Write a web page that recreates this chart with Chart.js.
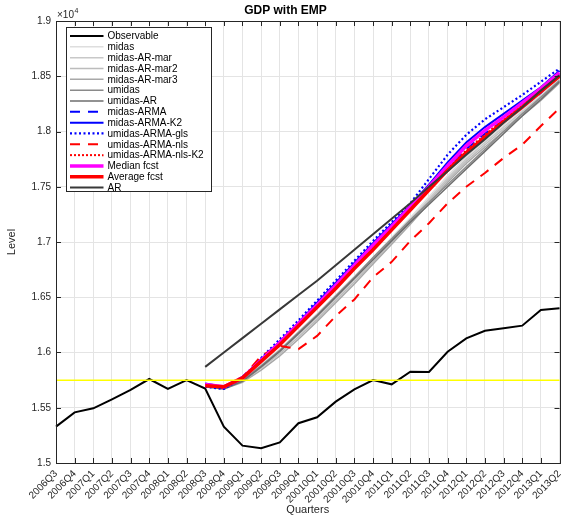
<!DOCTYPE html>
<html><head><meta charset="utf-8">
<script src="https://cdn.jsdelivr.net/npm/chart.js@4.4.1/dist/chart.umd.min.js"></script>
<style>html,body{margin:0;padding:0;background:#fff;}#wrap{width:573px;height:518px;}</style>
</head><body><div id="wrap"><canvas id="c" width="573" height="518"></canvas></div>
<script>
const quarters = ['2006Q3','2006Q4','2007Q1','2007Q2','2007Q3','2007Q4','2008Q1','2008Q2','2008Q3','2008Q4',
  '2009Q1','2009Q2','2009Q3','2009Q4','20010Q1','20010Q2','20010Q3','20010Q4','2011Q1','2011Q2','2011Q3','2011Q4',
  '2012Q1','2012Q2','2012Q3','2012Q4','2013Q1','2013Q2'];
const fcstStart = '2008Q3';
const observable = [1.5329,1.5458,1.5495,1.5576,1.5661,1.5760,1.5670,1.5751,1.5673,1.5329,1.5157,1.5133,1.5187,1.5360,
  1.5414,1.5555,1.5667,1.5751,1.5712,1.5826,1.5824,1.6007,1.6128,1.6197,1.6219,1.6243,1.6385,1.6400];
const midas =          [1.570,1.569,1.576,1.589,1.603,1.619,1.635,1.652,1.669,1.686,1.704,1.722,1.741,1.760,1.777,1.792,1.806,1.820,1.834,1.849];
const midasARmar =     [1.569,1.568,1.575,1.587,1.601,1.616,1.632,1.649,1.666,1.684,1.702,1.720,1.739,1.758,1.775,1.790,1.804,1.818,1.832,1.847];
const midasARmar2 =    [1.570,1.568,1.574,1.586,1.599,1.614,1.630,1.647,1.664,1.682,1.700,1.718,1.737,1.756,1.773,1.788,1.802,1.816,1.830,1.846];
const midasARmar3 =    [1.569,1.567,1.573,1.584,1.597,1.612,1.628,1.645,1.662,1.680,1.698,1.716,1.735,1.754,1.771,1.786,1.800,1.814,1.828,1.844];
const umidas =         [1.570,1.568,1.575,1.588,1.602,1.618,1.634,1.651,1.668,1.686,1.703,1.720,1.736,1.752,1.768,1.784,1.800,1.816,1.831,1.846];
const umidasAR =       [1.569,1.567,1.574,1.587,1.601,1.617,1.633,1.650,1.667,1.684,1.701,1.718,1.734,1.750,1.766,1.782,1.798,1.814,1.829,1.845];
const midasARMA =      [1.572,1.569,1.578,1.594,1.610,1.626,1.643,1.661,1.679,1.697,1.715,1.733,1.751,1.768,1.784,1.798,1.810,1.822,1.835,1.853];
const midasARMAK2 =    [1.571,1.568,1.577,1.594,1.610,1.627,1.645,1.663,1.681,1.699,1.716,1.733,1.752,1.772,1.790,1.804,1.816,1.828,1.840,1.855];
const umidasARMAgls =  [1.569,1.567,1.577,1.595,1.612,1.629,1.647,1.665,1.683,1.701,1.718,1.735,1.757,1.779,1.797,1.811,1.822,1.833,1.845,1.857];
const umidasARMAnls =  [1.570,1.5695,1.577,1.597,1.606,1.603,1.615,1.633,1.648,1.668,1.682,1.701,1.717,1.735,1.750,1.7625,1.776,1.788,1.805,1.821];
const umidasARMAnlsK2 =[1.570,1.568,1.577,1.593,1.609,1.626,1.643,1.660,1.678,1.695,1.713,1.731,1.749,1.767,1.783,1.797,1.811,1.824,1.838,1.852];
const medianFcst =     [1.571,1.569,1.577,1.593,1.609,1.626,1.643,1.661,1.679,1.697,1.714,1.732,1.750,1.769,1.787,1.801,1.813,1.826,1.839,1.853];
const averageFcst =    [1.570,1.569,1.577,1.592,1.607,1.624,1.641,1.658,1.676,1.693,1.711,1.729,1.747,1.765,1.781,1.795,1.809,1.822,1.836,1.850];
const arFcst =         [1.587,1.600,1.613,1.626,1.639,1.652,1.665,1.679,1.693,1.707,1.721,1.735,1.750,1.764,1.779,1.793,1.808,1.822,1.837,1.851];
const referenceLevel = 1.575;
const yMin = 1.5, yMax = 1.9, yStep = 0.05;

const s0 = quarters.indexOf(fcstStart);
const pad = v => quarters.map((q, i) => (i < s0 ? null : v[i - s0]));

const FONT = '"Liberation Sans", Arial, Helvetica, sans-serif';
const series = [
  {label:'Observable', data:observable, color:'#000000', w:2},
  {label:'midas', data:pad(midas), color:'#dedede', w:1.5},
  {label:'midas-AR-mar', data:pad(midasARmar), color:'#c8c8c8', w:1.5},
  {label:'midas-AR-mar2', data:pad(midasARmar2), color:'#bcbcbc', w:1.5},
  {label:'midas-AR-mar3', data:pad(midasARmar3), color:'#a8a8a8', w:1.5},
  {label:'umidas', data:pad(umidas), color:'#8a8a8a', w:1.5},
  {label:'umidas-AR', data:pad(umidasAR), color:'#6e6e6e', w:1.5},
  {label:'midas-ARMA', data:pad(midasARMA), color:'#0000ff', w:2, dash:[10,8]},
  {label:'midas-ARMA-K2', data:pad(midasARMAK2), color:'#0000ff', w:2},
  {label:'umidas-ARMA-gls', data:pad(umidasARMAgls), color:'#0000ff', w:2.2, dash:[2,2.5]},
  {label:'umidas-ARMA-nls', data:pad(umidasARMAnls), color:'#ff0000', w:2, dash:[10,8]},
  {label:'umidas-ARMA-nls-K2', data:pad(umidasARMAnlsK2), color:'#ff0000', w:2, dash:[2,2]},
  {label:'Median fcst', data:pad(medianFcst), color:'#ff00ff', w:3.5},
  {label:'Average fcst', data:pad(averageFcst), color:'#ff0000', w:3.5},
  {label:'AR', data:pad(arFcst), color:'#383838', w:2}
];
const datasets = series.map((s, i) => ({
  label: s.label, data: s.data, borderColor: s.color, backgroundColor: s.color,
  borderWidth: s.w, borderDash: s.dash || [], pointRadius: 0, tension: 0, fill: false,
  order: 100 - i, spanGaps: false
}));
datasets.push({
  label: '_ref', data: [{x: quarters[0], y: referenceLevel}, {x: quarters[quarters.length - 1], y: referenceLevel}],
  borderColor: '#ffff00', borderWidth: 1.5, pointRadius: 0, order: 0, fill: false
});

const decor = {
  id: 'decor',
  afterDatasetsDraw(chart) {
    const {ctx, chartArea: a, scales: {x, y}} = chart;
    ctx.save();
    ctx.strokeStyle = '#262626'; ctx.lineWidth = 1;
    ctx.beginPath();
    y.ticks.forEach(t => {
      const p = Math.round(y.getPixelForValue(t.value)) + 0.5;
      ctx.moveTo(a.left, p); ctx.lineTo(a.left + 5, p);
      ctx.moveTo(a.right, p); ctx.lineTo(a.right - 5, p);
    });
    x.ticks.forEach((t, i) => {
      const p = Math.round(x.getPixelForTick(i)) + 0.5;
      ctx.moveTo(p, a.bottom); ctx.lineTo(p, a.bottom - 5);
      ctx.moveTo(p, a.top); ctx.lineTo(p, a.top + 5);
    });
    ctx.stroke();
    ctx.strokeRect(Math.round(a.left) + 0.5, Math.round(a.top) + 0.5, Math.round(a.right - a.left), Math.round(a.bottom - a.top));
    // exponent label
    ctx.fillStyle = '#262626';
    ctx.textBaseline = 'alphabetic'; ctx.textAlign = 'left';
    ctx.font = '10px ' + FONT;
    ctx.fillText('\u00d710', a.left + 1, a.top - 3);
    const w = ctx.measureText('\u00d710').width;
    ctx.font = '7px ' + FONT;
    ctx.fillText('4', a.left + 1 + w + 0.5, a.top - 8);
    // legend
    const bx = 66.5, by = 27.5, bw = 145, bh = 164;
    ctx.fillStyle = '#ffffff';
    ctx.fillRect(bx, by, bw, bh);
    ctx.strokeStyle = '#262626'; ctx.lineWidth = 1;
    ctx.strokeRect(bx, by, bw, bh);
    ctx.font = '10px ' + FONT;
    ctx.textBaseline = 'middle';
    chart.data.datasets.forEach((d, i) => {
      if (d.label.startsWith('_')) return;
      const cy = 36 + i * 10.83;
      ctx.strokeStyle = d.borderColor; ctx.lineWidth = d.borderWidth;
      ctx.setLineDash(d.borderDash || []);
      ctx.beginPath(); ctx.moveTo(70, cy); ctx.lineTo(103.5, cy); ctx.stroke();
      ctx.setLineDash([]);
      ctx.fillStyle = '#000000';
      ctx.fillText(d.label, 107.5, cy + 0.5);
    });
    ctx.restore();
  }
};

new Chart(document.getElementById('c'), {
  type: 'line',
  data: {labels: quarters, datasets},
  options: {
    responsive: false, animation: false, devicePixelRatio: 1,
    layout: {padding: {left: 1, right: 3, top: 0, bottom: 0}},
    plugins: {
      legend: {display: false}, tooltip: {enabled: false},
      title: {display: true, text: 'GDP with EMP', color: '#000000',
        font: {family: FONT, size: 12, weight: 'bold'}, padding: {top: 3, bottom: 3.6}}
    },
    scales: {
      x: {
        type: 'category', offset: false,
        grid: {color: '#e4e4e4', drawTicks: false, offset: false},
        border: {display: false},
        ticks: {autoSkip: false, maxRotation: 45, minRotation: 45, color: '#262626', padding: 5,
          font: {family: FONT, size: 10}},
        title: {display: true, text: 'Quarters', color: '#262626', font: {family: FONT, size: 11}, padding: {top: 2, bottom: 1}},
        afterFit: s => { s.height = 55; }
      },
      y: {
        min: yMin, max: yMax,
        grid: {color: '#e4e4e4', drawTicks: false},
        border: {display: false},
        ticks: {stepSize: yStep, color: '#262626', padding: 5, font: {family: FONT, size: 10},
          callback: v => String(+v.toFixed(2))},
        title: {display: true, text: 'Level', color: '#262626', font: {family: FONT, size: 11}, padding: {top: 4, bottom: 4}},
        afterFit: s => { s.width = 55; }
      }
    }
  },
  plugins: [decor]
});
</script></body></html>
